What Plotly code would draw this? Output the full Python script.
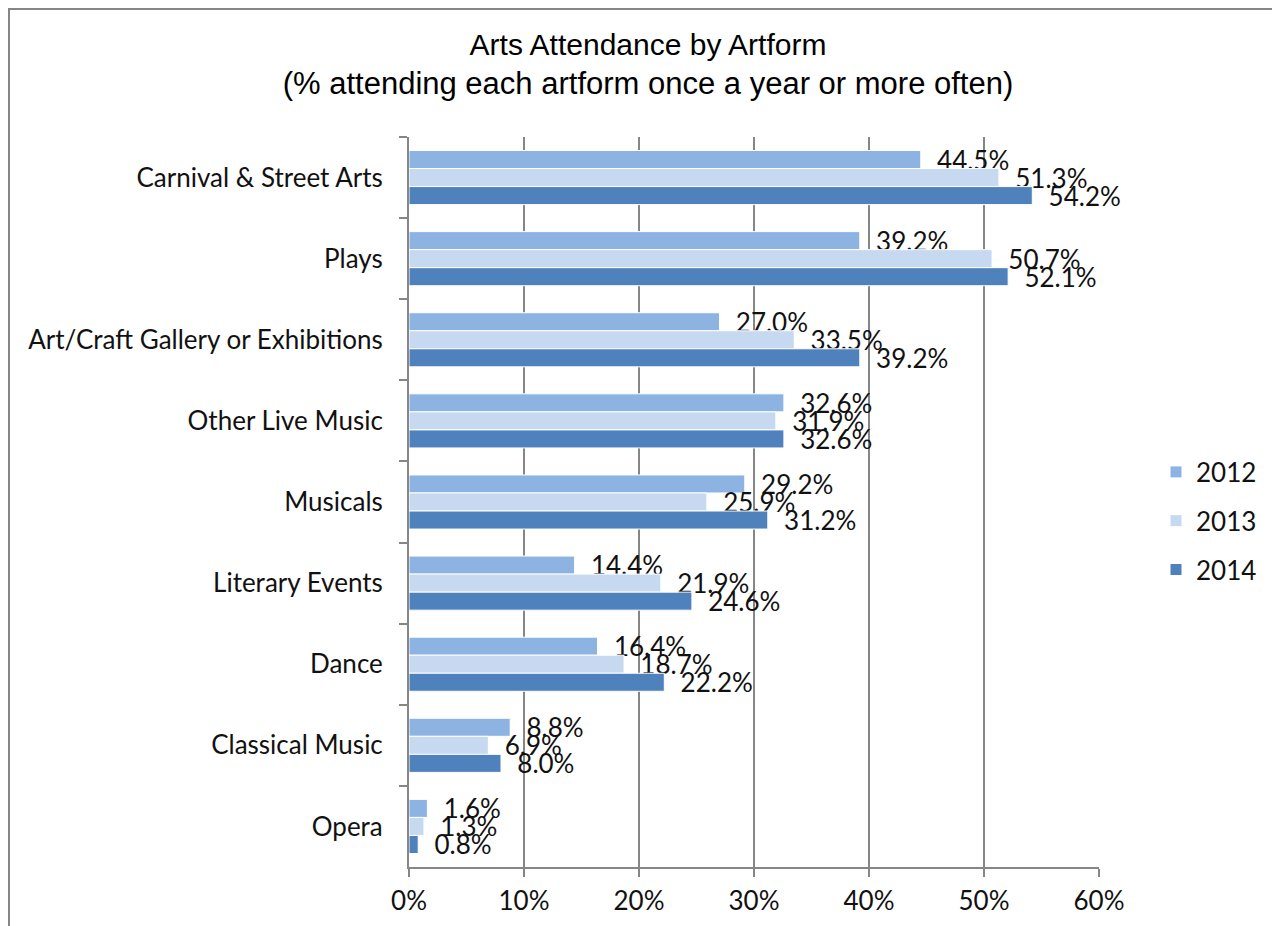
import plotly.graph_objects as go

categories = ["Carnival & Street Arts", "Plays", "Art/Craft Gallery or Exhibitions",
              "Other Live Music", "Musicals", "Literary Events", "Dance",
              "Classical Music", "Opera"]
years = ["2012", "2013", "2014"]
values_2012 = [44.5, 39.2, 27.0, 32.6, 29.2, 14.4, 16.4, 8.8, 1.6]
values_2013 = [51.3, 50.7, 33.5, 31.9, 25.9, 21.9, 18.7, 6.9, 1.3]
values_2014 = [54.2, 52.1, 39.2, 32.6, 31.2, 24.6, 22.2, 8.0, 0.8]
series = [values_2012, values_2013, values_2014]
colors = ["#8DB3E2", "#C6D9F1", "#4F81BD"]
x_ticks = [0, 10, 20, 30, 40, 50, 60]

FONT = "Lato, 'Open Sans', sans-serif"
TITLE_FONT = "'Liberation Sans', Arial, sans-serif"
GRAY = "#868686"

fig = go.Figure()
for name, vals, col in zip(years, series, colors):
    fig.add_trace(go.Bar(
        y=categories, x=vals, name=name, orientation="h",
        marker=dict(color=col, line=dict(color="white", width=1)),
        text=["\u00a0\u00a0" + f"{v:.1f}%" for v in vals],
        textposition="outside", constraintext="none", cliponaxis=False,
        textfont=dict(family=FONT, size=26, color="#111111"),
        legendgroup=name, hoverinfo="skip",
    ))

# the page places the figure 8px from the top-left of the window
W, H = 1280, 926
L, R, T, B = 401, 189, 129, 67
pw, ph = W - L - R, H - T - B

fig.update_layout(
    width=W, height=H,
    margin=dict(l=L, r=R, t=T, b=B),
    paper_bgcolor="white", plot_bgcolor="white",
    barmode="group", bargap=0.333, bargroupgap=0,
    font=dict(family=FONT, size=26, color="#111111"),
    title=dict(
        text="Arts Attendance by Artform<br><span style='font-size:31px'>(% attending each artform once a year or more often)</span>",
        x=0.5, xanchor="center", y=0.949, yanchor="top",
        font=dict(family=TITLE_FONT, size=30, color="black"),
    ),
    legend=dict(
        x=(1148 - L) / pw, xanchor="left", y=(H - B - 513) / ph, yanchor="middle",
        font=dict(family=FONT, size=26, color="#111111"),
        traceorder="grouped", tracegroupgap=12, bgcolor="rgba(0,0,0,0)",
    ),
    xaxis=dict(
        range=[0, 60], tickvals=x_ticks, ticktext=[f"{t}%" for t in x_ticks],
        showgrid=True, gridcolor=GRAY, gridwidth=2,
        showline=True, linecolor=GRAY, linewidth=2,
        ticks="outside", ticklen=8, tickwidth=2, tickcolor=GRAY,
        tickfont=dict(family=FONT, size=26), ticklabelstandoff=2,
        zeroline=False, fixedrange=True,
    ),
    yaxis=dict(
        categoryorder="array", categoryarray=categories, autorange="reversed",
        showline=True, linecolor=GRAY, linewidth=2,
        ticks="outside", ticklen=8, tickwidth=2, tickcolor=GRAY, tickson="boundaries",
        tickfont=dict(family=FONT, size=26), ticklabelstandoff=19,
        showgrid=False, fixedrange=True,
    ),
    shapes=[dict(type="rect", xref="paper", yref="paper",
                 x0=(1 - L) / pw, x1=(1268 - L) / pw,
                 y0=(H - B - 960) / ph, y1=(H - B - 1) / ph,
                 line=dict(color=GRAY, width=2), fillcolor="rgba(0,0,0,0)", layer="below")],
)

fig.write_html("out.html")
